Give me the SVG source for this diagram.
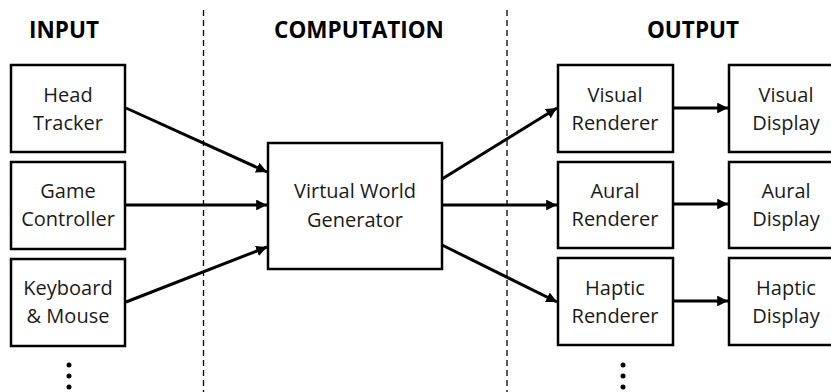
<svg xmlns="http://www.w3.org/2000/svg" width="831" height="392" viewBox="0 0 831 392">
<defs>
<style>
.box{fill:#fff;stroke:#000;stroke-width:2.5}
.t{font-family:"Open Sans","Liberation Sans",sans-serif;font-size:20px;fill:#1a1a1a;text-anchor:middle}
.h{font-family:"Open Sans","Liberation Sans",sans-serif;font-size:22.5px;font-weight:bold;fill:#000;text-anchor:middle}
.c{stroke:#000;stroke-width:3;fill:none;marker-end:url(#ah)}
.d{stroke:#000;stroke-width:1.3;stroke-dasharray:6,4;fill:none}
</style>
<marker id="ah" viewBox="0 0 10 10" refX="10" refY="5" markerWidth="3.6" markerHeight="3.6" orient="auto" markerUnits="strokeWidth">
<path d="M0,0 L10,5 L0,10 z" fill="#000"/>
</marker>
</defs>
<rect width="831" height="392" fill="#fff"/>
<g id="dividers">
<line class="d" x1="203.5" y1="10" x2="203.5" y2="392"/>
<line class="d" x1="507" y1="10" x2="507" y2="392"/>
</g>
<g id="headings">
<text class="h" x="64" y="38">INPUT</text>
<text class="h" x="359" y="38">COMPUTATION</text>
<text class="h" x="693" y="38">OUTPUT</text>
</g>
<g id="head-tracker"><rect class="box" x="11" y="65" width="114" height="87"/><text class="t" x="68" y="102">Head</text><text class="t" x="68" y="130">Tracker</text></g>
<g id="game-controller"><rect class="box" x="11" y="162" width="114" height="87"/><text class="t" x="68" y="198">Game</text><text class="t" x="68" y="226">Controller</text></g>
<g id="keyboard-mouse"><rect class="box" x="11" y="259" width="114" height="87"/><text class="t" x="68" y="295">Keyboard</text><text class="t" x="68" y="323">&amp; Mouse</text></g>
<g id="input-more"><circle cx="69" cy="365" r="2.5"/><circle cx="69" cy="376" r="2.5"/><circle cx="69" cy="387" r="2.5"/></g>
<g id="virtual-world-generator"><rect class="box" x="268" y="143" width="174" height="126"/><text class="t" x="355" y="198">Virtual World</text><text class="t" x="355" y="227">Generator</text></g>
<g id="visual-renderer"><rect class="box" x="558" y="65" width="115" height="87"/><text class="t" x="615" y="102">Visual</text><text class="t" x="615" y="130">Renderer</text></g>
<g id="aural-renderer"><rect class="box" x="558" y="162" width="115" height="86"/><text class="t" x="615" y="198">Aural</text><text class="t" x="615" y="226">Renderer</text></g>
<g id="haptic-renderer"><rect class="box" x="558" y="258" width="115" height="87"/><text class="t" x="615" y="295">Haptic</text><text class="t" x="615" y="323">Renderer</text></g>
<g id="output-more"><circle cx="623" cy="365" r="2.5"/><circle cx="623" cy="376" r="2.5"/><circle cx="623" cy="387" r="2.5"/></g>
<g id="visual-display"><rect class="box" x="729" y="65" width="120" height="87"/><text class="t" x="786" y="102">Visual</text><text class="t" x="786" y="130">Display</text></g>
<g id="aural-display"><rect class="box" x="729" y="162" width="120" height="86"/><text class="t" x="786" y="198">Aural</text><text class="t" x="786" y="226">Display</text></g>
<g id="haptic-display"><rect class="box" x="729" y="258" width="120" height="87"/><text class="t" x="786" y="295">Haptic</text><text class="t" x="786" y="323">Display</text></g>
<g id="connectors">
<line class="c" x1="126" y1="108" x2="267" y2="172"/>
<line class="c" x1="126" y1="205" x2="267" y2="205"/>
<line class="c" x1="126" y1="302" x2="267" y2="247"/>
<line class="c" x1="442" y1="179" x2="557" y2="108"/>
<line class="c" x1="442" y1="205" x2="557" y2="205"/>
<line class="c" x1="442" y1="245" x2="557" y2="302"/>
<line class="c" x1="673" y1="108" x2="728" y2="108"/>
<line class="c" x1="673" y1="204" x2="728" y2="204"/>
<line class="c" x1="673" y1="301" x2="728" y2="301"/>
</g>
</svg>
